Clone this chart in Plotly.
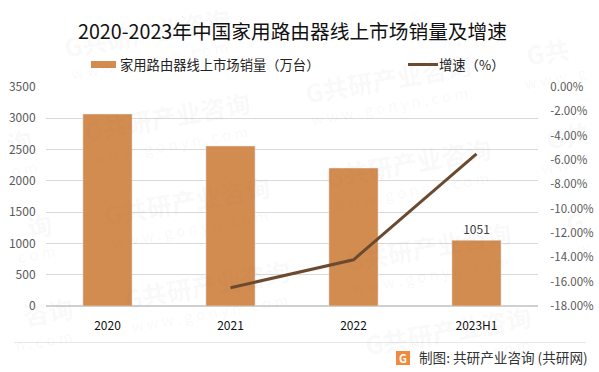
import math
import plotly.graph_objects as go

categories = ["2020", "2021", "2022", "2023H1"]
sales = [3068, 2557, 2205, 1051]
bar_labels = ["", "", "", "1051"]
growth = [None, -16.5, -14.2, -5.5]
left_ticks = [0, 500, 1000, 1500, 2000, 2500, 3000, 3500]
right_ticks = [0, -2, -4, -6, -8, -10, -12, -14, -16, -18]
right_labels = ["0.00%", "-2.00%", "-4.00%", "-6.00%", "-8.00%", "-10.00%", "-12.00%", "-14.00%", "-16.00%", "-18.00%"]
mark_name = list("G共研产业咨询")
mark_site = list("www.gonyn.com")

W, H = 599, 372
FONT = "Noto Sans CJK SC, sans-serif"
px = lambda x: x / W
py = lambda y: 1 - y / H

fig = go.Figure()
fig.add_trace(go.Bar(x=categories, y=sales, name="家用路由器线上市场销量（万台）", marker_color="#D28C4F",
                     width=0.4, text=bar_labels, textposition="outside", cliponaxis=False,
                     textfont=dict(size=12, color="#404040", family=FONT), showlegend=False))
fig.add_trace(go.Scatter(x=categories, y=growth, name="增速（%）", yaxis="y2", mode="lines",
                         line=dict(color="#6B4A2F", width=3), showlegend=False))

ann = []
def text(x, y, s, size, color, anchor="left", **kw):
    ann.append(dict(x=px(x), y=py(y), xref="paper", yref="paper", text=s, showarrow=False, xanchor=anchor,
                    yanchor="middle", font=dict(size=size, color=color, family=FONT), **kw))

ANGLE = math.radians(10)
def mark_run(cx, cy, chars, step, size, color, bold, joiner):
    # keep only the characters of a rotated watermark that lie wholly on the canvas
    n = len(chars)
    pts = [(cx + (k - (n - 1) / 2) * step * math.cos(ANGLE), cy - (k - (n - 1) / 2) * step * math.sin(ANGLE))
           for k in range(n)]
    m = size * 0.75
    keep = [k for k, (a, b) in enumerate(pts) if m < a < W - m and m < b < H - m]
    if not keep:
        return
    keep = list(range(keep[0], keep[-1] + 1))
    s = joiner.join(chars[k] for k in keep)
    mx = sum(pts[k][0] for k in keep) / len(keep)
    my = sum(pts[k][1] for k in keep) / len(keep)
    text(mx, my, f"<b>{s}</b>" if bold else s, size, color, "center", textangle=-10)

for i in range(-1, 3):
    for j in range(-1, 4):
        cx = 167 + 221 * i + 20 * j
        cy = 116 - 38 * i + 84 * j
        mark_run(cx, cy, mark_name, 25, 25, "rgba(90,90,90,0.05)", True, "")
        mark_run(cx + 2, cy + 28, mark_site, 14, 15, "rgba(90,90,90,0.05)", False, " ")

text(292.5, 30.5, "2020-2023年中国家用路由器线上市场销量及增速", 19.7, "#111111", "center")
text(118, 64.5, "家用路由器线上市场销量（万台）", 13.3, "#222222")
text(437, 64.5, "增速（%）", 13.3, "#222222")
text(417, 357, "制图: 共研产业咨询 (共研网)", 13.6, "#333333")
text(403, 358, "<b>G</b>", 11, "#FFFFFF", "center")

shapes = [
    dict(type="rect", xref="paper", yref="paper", x0=px(91), x1=px(116), y0=py(61), y1=py(68),
         fillcolor="#D28C4F", line_width=0),
    dict(type="line", xref="paper", yref="paper", x0=px(408), x1=px(438), y0=py(64.5), y1=py(64.5),
         line=dict(color="#6B4A2F", width=3)),
    dict(type="line", xref="paper", yref="paper", x0=px(14), x1=px(586), y0=py(342.5), y1=py(342.5),
         line=dict(color="#E8E8E8", width=1)),
    dict(type="rect", xref="paper", yref="paper", x0=px(396), x1=px(410), y0=py(351), y1=py(365),
         fillcolor="#F08A3C", line_width=0),
]

fig.update_layout(
    width=W, height=H, autosize=False, margin=dict(l=0, r=0, t=0, b=0),
    paper_bgcolor="white", plot_bgcolor="white", bargap=0.6,
    annotations=ann, shapes=shapes, font=dict(family=FONT),
    xaxis=dict(domain=[px(46), px(538)], type="category", range=[-0.5, 3.5], showgrid=False, showline=False,
               automargin=False, ticks="outside", ticklen=9, tickcolor="rgba(0,0,0,0)",
               tickfont=dict(size=12, color="#111111", family=FONT)),
    yaxis=dict(domain=[py(306), py(87)], range=[0, 3500], tickvals=left_ticks, gridcolor="#D9D9D9", gridwidth=1,
               automargin=False, zeroline=True, zerolinecolor="#D0D0D0", showline=False, ticks="outside", ticklen=7,
               tickcolor="rgba(0,0,0,0)", tickfont=dict(size=12, color="#595959", family=FONT)),
    yaxis2=dict(overlaying="y", side="right", anchor="x", range=[-18, 0], tickvals=right_ticks, ticktext=right_labels,
                automargin=False, showgrid=False, zeroline=False, showline=False, ticks="outside", ticklen=9,
                tickcolor="rgba(0,0,0,0)", tickfont=dict(size=11.5, color="#595959", family=FONT)),
)
fig.write_html("out.html", config={"displayModeBar": False}, post_script="document.body.style.margin='0';")
